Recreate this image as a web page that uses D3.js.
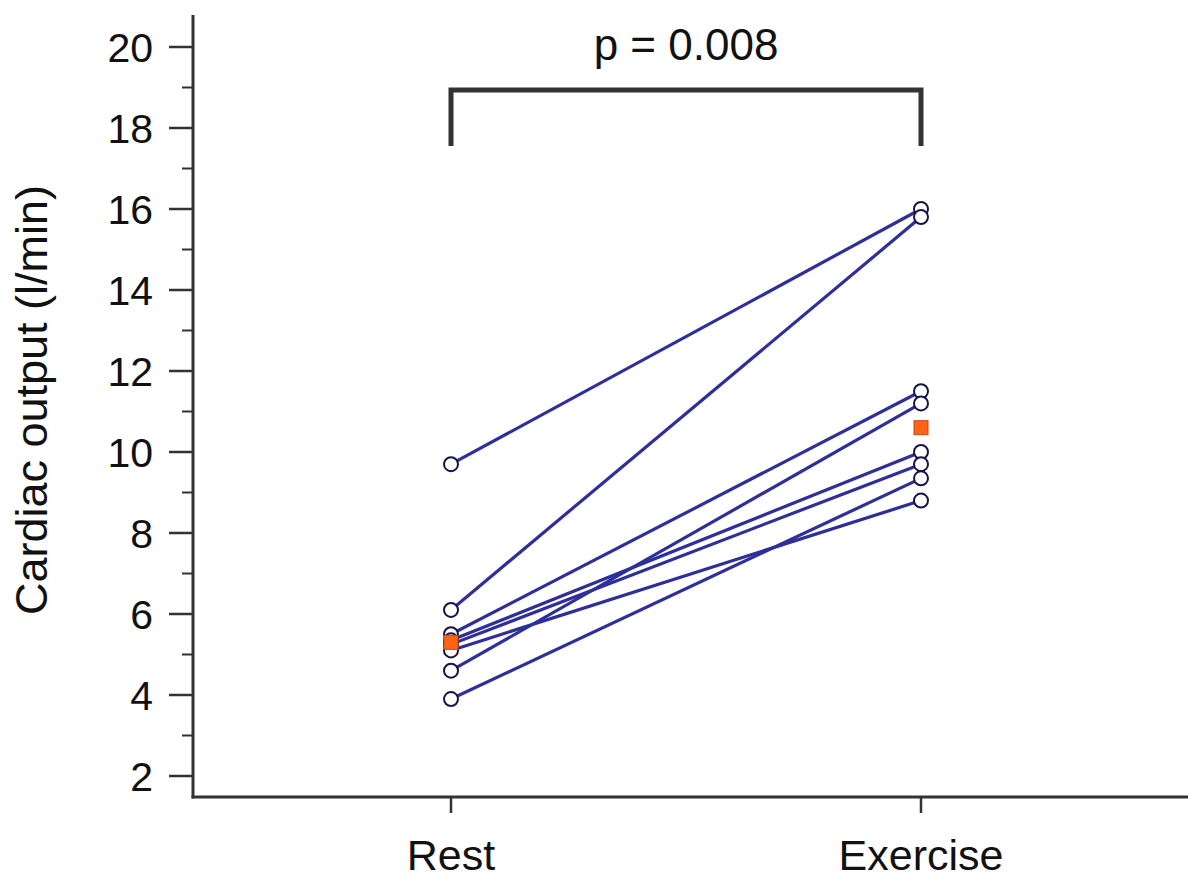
<!DOCTYPE html>
<html><head><meta charset="utf-8">
<script src="https://cdn.jsdelivr.net/npm/d3@7"></script>
<style>body{margin:0;background:#fff}svg{display:block}text{font-family:"Liberation Sans",Arial,sans-serif;fill:#111}</style>
</head><body><svg id="c" width="1200" height="881"></svg>
<script>
const categories = ["Rest", "Exercise"];
const restValues = [9.7, 6.1, 5.5, 5.35, 5.25, 5.1, 4.6, 3.9];
const exerciseValues = [16.0, 15.8, 11.5, 10.0, 9.7, 8.8, 11.2, 9.35];
const medians = [5.3, 10.6];
const yTicks = [2, 4, 6, 8, 10, 12, 14, 16, 18, 20];
const pLabel = "p = 0.008";

const svg = d3.select("#c");
const y = d3.scaleLinear().domain([2, 20]).range([776, 47]);
const x = d3.scalePoint().domain(categories).range([451, 921]);
const axisX = 193, axisBottom = 797, axisTop = 15, axisRight = 1188;
const axisColor = "#333";

// y axis
svg.append("line").attr("x1", axisX).attr("x2", axisX).attr("y1", axisTop).attr("y2", axisBottom + 1.5)
  .attr("stroke", axisColor).attr("stroke-width", 3);
const minorTicks = d3.range(3, 20, 2);
svg.selectAll(".minor").data(minorTicks).join("line")
  .attr("x1", axisX - 11).attr("x2", axisX).attr("y1", d => y(d)).attr("y2", d => y(d))
  .attr("stroke", axisColor).attr("stroke-width", 2);
svg.selectAll(".major").data(yTicks).join("line")
  .attr("x1", axisX - 24).attr("x2", axisX).attr("y1", d => y(d)).attr("y2", d => y(d))
  .attr("stroke", axisColor).attr("stroke-width", 2.5);
svg.selectAll(".ylab").data(yTicks).join("text")
  .attr("x", 153).attr("y", d => y(d)).attr("dy", "0.355em").attr("text-anchor", "end")
  .attr("font-size", 41).text(d => d);

// x axis
svg.append("line").attr("x1", axisX - 1.5).attr("x2", axisRight).attr("y1", axisBottom).attr("y2", axisBottom)
  .attr("stroke", axisColor).attr("stroke-width", 3);
svg.selectAll(".xt").data(categories).join("line")
  .attr("x1", d => x(d)).attr("x2", d => x(d)).attr("y1", axisBottom).attr("y2", axisBottom + 16)
  .attr("stroke", axisColor).attr("stroke-width", 2.5);
svg.selectAll(".xlab").data(categories).join("text")
  .attr("x", d => x(d)).attr("y", 870).attr("text-anchor", "middle")
  .attr("font-size", 43).text(d => d);

// y label
svg.append("text").attr("transform", "translate(47,400) rotate(-90)").attr("text-anchor", "middle")
  .attr("font-size", 45).text("Cardiac output (l/min)");

// bracket
const by = 90, bBot = 146;
svg.append("path")
  .attr("d", `M${x("Rest")},${bBot}V${by}H${x("Exercise")}V${bBot}`)
  .attr("fill", "none").attr("stroke", "#333").attr("stroke-width", 5);
svg.append("text").attr("x", (x("Rest") + x("Exercise")) / 2).attr("y", 60).attr("text-anchor", "middle")
  .attr("font-size", 44).text(pLabel);

// paired lines
const pairs = restValues.map((r, i) => [r, exerciseValues[i]]);
svg.selectAll(".pl").data(pairs).join("line")
  .attr("x1", x("Rest")).attr("x2", x("Exercise"))
  .attr("y1", d => y(d[0])).attr("y2", d => y(d[1]))
  .attr("stroke", "#2e2f9a").attr("stroke-width", 3.2);

// points
const pts = [];
restValues.forEach(v => pts.push([categories[0], v]));
exerciseValues.forEach(v => pts.push([categories[1], v]));
svg.selectAll(".pt").data(pts).join("circle")
  .attr("cx", d => x(d[0])).attr("cy", d => y(d[1])).attr("r", 7)
  .attr("fill", "#fff").attr("stroke", "#14144a").attr("stroke-width", 2);

// medians
const ms = 14;
svg.selectAll(".md").data(medians).join("rect")
  .attr("x", (d, i) => x(categories[i]) - ms / 2).attr("y", d => y(d) - ms / 2)
  .attr("width", ms).attr("height", ms)
  .attr("fill", "#ff6414").attr("stroke", "#c04a10").attr("stroke-width", 1);
</script></body></html>
